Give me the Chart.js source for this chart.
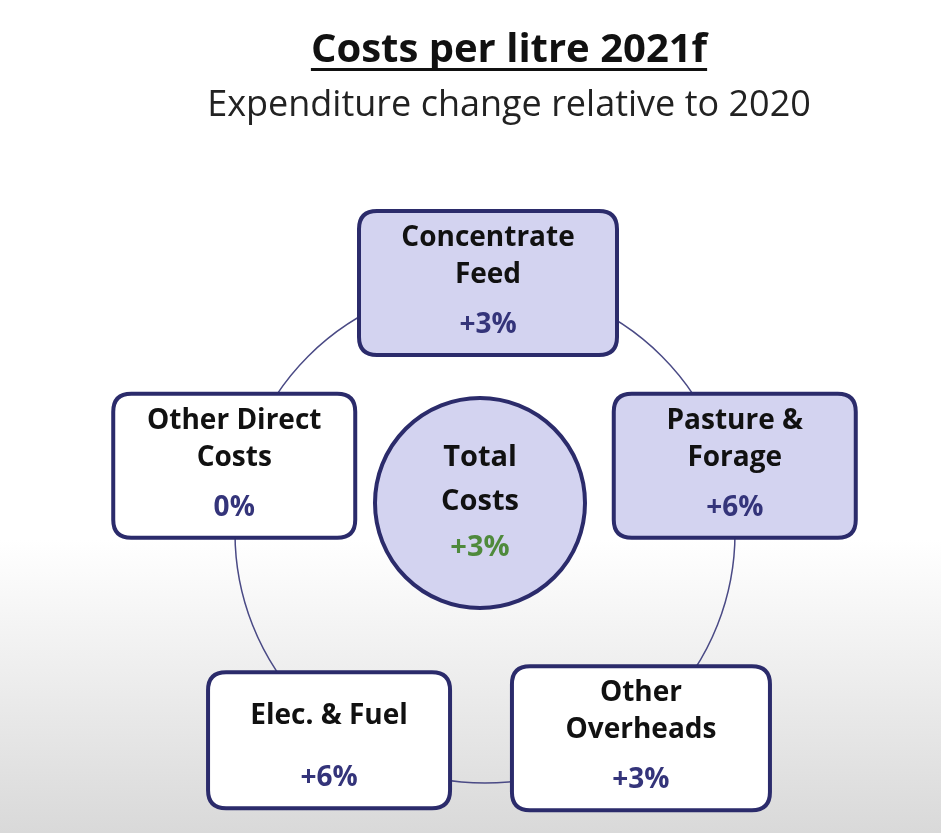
<!DOCTYPE html>
<html>
<head>
<meta charset="utf-8">
<script src="https://cdn.jsdelivr.net/npm/chart.js@4/dist/chart.umd.min.js"></script>
<style>
  html, body { margin: 0; padding: 0; }
  body { width: 941px; height: 833px; background: linear-gradient(#ffffff 0px, #ffffff 540px, #d9d9d9 833px); }
  #wrap { width: 941px; height: 833px; }
</style>
</head>
<body>
<div id="wrap"><canvas id="chart"></canvas></div>
<script>
// textes du schema
const titleText = 'Costs per litre 2021f';
const subtitleText = 'Expenditure change relative to 2020';
// les 5 postes autour du cercle (ordre horaire depuis le haut)
const nodeLabels = [['Concentrate', 'Feed'], ['Pasture &', 'Forage'], ['Other', 'Overheads'], ['Elec. & Fuel'], ['Other Direct', 'Costs']];
const nodeChanges = ['+3%', '+6%', '+3%', '+6%', '0%'];
const nodeAngles = [-90, -18, 54, 126, 198]; // degres
const nodeHighlight = [true, true, false, false, false];
const totalLabel = ['Total', 'Costs'];
const totalChange = '+3%';

const ringR = 250;
const navy = '#2b2b6b';
const lav = '#d3d3f0';
// petits decalages en pixels pour coller a l'original
const nudgeX = [3, 12, 9, -9, -13];
const nudgeY = [0, 10, 3, 5, 10];

const points = nodeAngles.map(a => ({ x: ringR * Math.cos(a * Math.PI / 180), y: ringR * Math.sin(a * Math.PI / 180) }));

function rr(c, x, y, w, h, r) {
  c.beginPath();
  c.moveTo(x + r, y); c.lineTo(x + w - r, y); c.quadraticCurveTo(x + w, y, x + w, y + r);
  c.lineTo(x + w, y + h - r); c.quadraticCurveTo(x + w, y + h, x + w - r, y + h);
  c.lineTo(x + r, y + h); c.quadraticCurveTo(x, y + h, x, y + h - r);
  c.lineTo(x, y + r); c.quadraticCurveTo(x, y, x + r, y); c.closePath();
}

const diagram = {
  id: 'diagram',
  beforeDatasetsDraw(chart) {
    const c = chart.ctx, sx = chart.scales.x, sy = chart.scales.y;
    const cx = sx.getPixelForValue(0), cy = sy.getPixelForValue(0);
    const rpx = Math.abs(sx.getPixelForValue(ringR) - cx);
    c.save();
    // titre souligne
    c.fillStyle = '#111'; c.textAlign = 'center'; c.textBaseline = 'alphabetic';
    c.font = 'bold 40px "Open Sans", sans-serif';
    c.fillText(titleText, 509, 62);
    const tw = c.measureText(titleText).width;
    c.fillRect(509 - tw / 2, 68, tw, 3);
    c.fillStyle = '#222';
    c.font = '36px "Open Sans", sans-serif';
    c.fillText(subtitleText, 509, 116);
    // anneau
    c.strokeStyle = '#4a4a85'; c.lineWidth = 1.5;
    c.beginPath(); c.arc(cx, cy, rpx, 0, Math.PI * 2); c.stroke();
    // cercle central
    c.beginPath(); c.arc(cx - 5, cy - 30, 105, 0, Math.PI * 2);
    c.fillStyle = lav; c.fill(); c.strokeStyle = navy; c.lineWidth = 4; c.stroke();
    c.fillStyle = '#111'; c.textBaseline = 'middle';
    c.font = 'bold 29px "Open Sans", sans-serif';
    c.fillText(totalLabel[0], cx - 5, cy - 75);
    c.fillText(totalLabel[1], cx - 5, cy - 31);
    c.fillStyle = '#4f8a3c';
    c.fillText(totalChange, cx - 5, cy + 15);
    // boites
    const meta = chart.getDatasetMeta(0);
    meta.data.forEach((el, i) => {
      const ex = el.x + nudgeX[i], ey = el.y + nudgeY[i];
      const w = i === 0 || i === 2 ? 258 : 242, h = i === 3 ? 136 : 144;
      const x = ex - w / 2, y = ey - h / 2;
      rr(c, x, y, w, h, 18);
      c.fillStyle = nodeHighlight[i] ? lav : '#fff'; c.fill();
      c.strokeStyle = navy; c.lineWidth = 4; c.stroke();
      c.fillStyle = '#111'; c.font = 'bold 28px "Open Sans", sans-serif';
      const lines = nodeLabels[i];
      if (lines.length === 2) {
        c.fillText(lines[0], ex, y + 27); c.fillText(lines[1], ex, y + 64);
      } else {
        c.fillText(lines[0], ex, y + 44);
      }
      c.fillStyle = '#34347a';
      c.fillText(nodeChanges[i], ex, y + h - 30);
    });
    c.restore();
  }
};

const chart = new Chart(document.getElementById('chart'), {
  type: 'scatter',
  data: { datasets: [{ data: points, pointRadius: 0 }] },
  options: {
    responsive: true, maintainAspectRatio: false, animation: false,
    layout: { padding: 0 },
    plugins: { legend: { display: false }, tooltip: { enabled: false } },
    scales: {
      x: { display: false, min: -485, max: 456 },
      y: { display: false, min: -533, max: 300, reverse: true }
    }
  },
  plugins: [diagram]
});
</script>
</body>
</html>
